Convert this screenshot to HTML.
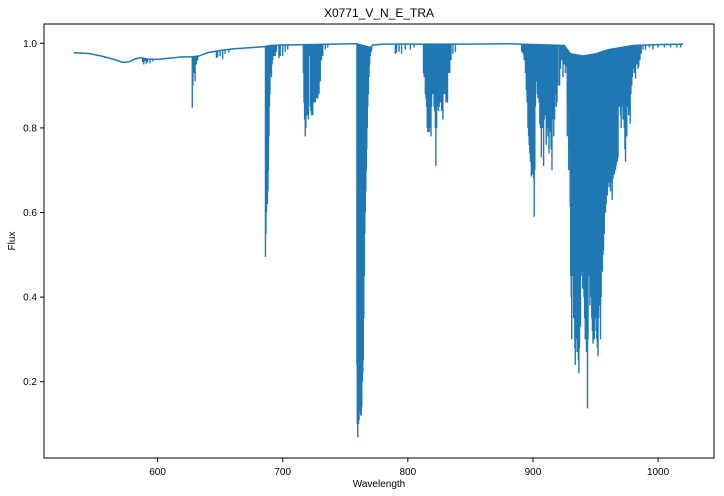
<!DOCTYPE html>
<html><head><meta charset="utf-8"><style>
html,body{margin:0;padding:0;background:#fff;}
svg{display:block;font-family:"Liberation Sans",sans-serif;}
</style></head><body>
<svg id="chart" width="724" height="496" viewBox="0 0 724 496">
<rect x="0" y="0" width="724" height="496" fill="#fff"/>
<text x="379" y="17" text-anchor="middle" font-size="12" fill="#000">X0771_V_N_E_TRA</text>
<g id="plot"></g>
<g id="axes"></g>
<text x="379" y="487" text-anchor="middle" font-size="10" fill="#000">Wavelength</text>
<text x="15" y="241" text-anchor="middle" font-size="10" fill="#000" transform="rotate(-90 15 241)">Flux</text>
</svg>
<script>
const xTicks = [600, 700, 800, 900, 1000];
const yTicks = [0.2, 0.4, 0.6, 0.8, 1.0];
const contWl = [533,545,555,565,572,577,582,586,592,600,610,620,627,633,640,650,660,670,685,690,700,720,740,758,759,770,772,780,800,850,880,890,925,930,940,950,960,970,980,1000,1020];
const contFlux = [0.978,0.976,0.970,0.962,0.955,0.956,0.963,0.966,0.963,0.962,0.965,0.968,0.968,0.970,0.978,0.983,0.987,0.989,0.992,0.995,0.996,0.997,0.998,0.999,0.999,0.99,0.996,0.998,0.998,0.998,0.999,0.998,0.995,0.975,0.97,0.975,0.985,0.99,0.995,0.997,0.998];
const lineWl = [588,589,590,591,592,594,596,
627.7,628.2,629,630,631,632,
647,648,650,652,654,657,
686.2,686.6,687,687.4,687.8,688.2,688.6,689,689.4,689.8,690.2,690.6,691,691.5,692,693,694,695,697,698,700,702,704,
716.5,717,717.5,718,718.5,719,719.5,720,720.5,721,722,722.5,723,723.5,724,724.5,725,725.5,726,726.5,727,727.5,728,728.5,729,729.5,730,731,732,734,736,
759.3,759.6,760,760.3,760.6,761,761.4,762,762.4,762.8,763.2,763.6,764,764.4,764.8,765.2,765.6,766,766.4,766.8,767.2,767.6,768,768.5,769,769.5,770,771,
790,791,793,795,798,802,805,
812.5,813,813.5,814,814.5,815,815.5,816,816.5,817,817.5,818,818.5,819,819.5,820,820.5,821,821.5,822,822.4,823,823.5,824,824.5,825,825.5,826,826.5,827,827.5,828,828.5,829,829.5,830,830.5,831,831.7,832.5,833.5,834.5,836,838,
891,892,893,894,894.7,895.3,896,896.5,897,897.5,898,898.7,899.3,900,900.5,901,901.5,902,902.7,903.5,904,905,905.5,906,906.7,907.3,908,908.5,909,909.5,910,910.6,911.3,912,912.8,913.5,914,914.5,915.2,916,916.6,917.3,918,918.6,919.2,920,921.3,922,923,924,925,926,926.6,927.4,928,928.6,929.2,929.8,
930.2,930.6,931,931.5,932,932.5,933,933.5,933.8,934.3,934.8,935.3,935.8,936.3,936.7,937.2,937.7,938,938.5,939,939.3,939.8,940.3,940.8,941.3,941.8,942.3,942.8,943.2,943.6,944,944.5,945,945.5,946,946.5,947,947.5,948,948.5,949,949.5,950,950.5,951,951.5,952,952.5,953,953.5,954,954.5,955,955.5,956,956.4,957,957.5,958,
958.5,959,959.5,960,960.5,961,961.5,962,962.5,963.3,964,964.5,965,965.5,966,966.5,967,967.5,968,968.5,969,969.5,970,970.5,971,971.5,972,972.5,973,973.5,974,974.5,975,975.5,976,976.5,977,977.7,978.3,979,979.5,980,981,982,983,984,984.6,985.5,986.5,988,990,993,996,1000,1005,1010,1015,1018];
const lineFlux = [0.955,0.95,0.958,0.952,0.955,0.953,0.957,
0.848,0.90,0.93,0.91,0.95,0.96,
0.965,0.968,0.97,0.963,0.975,0.978,
0.495,0.55,0.60,0.62,0.62,0.65,0.70,0.78,0.85,0.88,0.93,0.94,0.92,0.95,0.96,0.97,0.97,0.98,0.965,0.97,0.97,0.98,0.985,
0.93,0.86,0.82,0.78,0.80,0.88,0.83,0.90,0.82,0.97,0.85,0.84,0.83,0.90,0.83,0.86,0.87,0.86,0.86,0.88,0.87,0.93,0.87,0.90,0.88,0.93,0.91,0.96,0.97,0.985,0.99,
0.24,0.10,0.068,0.12,0.10,0.11,0.13,0.13,0.12,0.12,0.14,0.20,0.22,0.25,0.35,0.45,0.55,0.60,0.65,0.70,0.75,0.80,0.85,0.88,0.92,0.95,0.97,0.98,
0.975,0.978,0.98,0.975,0.985,0.985,0.99,
0.93,0.92,0.95,0.88,0.87,0.85,0.80,0.79,0.79,0.79,0.80,0.85,0.78,0.85,0.90,0.88,0.93,0.85,0.84,0.80,0.71,0.80,0.85,0.87,0.84,0.85,0.86,0.86,0.88,0.84,0.85,0.82,0.88,0.90,0.88,0.90,0.86,0.87,0.86,0.93,0.93,0.96,0.975,0.98,
0.98,0.975,0.96,0.93,0.89,0.86,0.80,0.78,0.76,0.74,0.72,0.685,0.69,0.70,0.68,0.59,0.70,0.85,0.91,0.88,0.87,0.86,0.81,0.80,0.73,0.80,0.80,0.71,0.82,0.83,0.84,0.76,0.80,0.78,0.74,0.80,0.79,0.75,0.70,0.82,0.78,0.82,0.88,0.85,0.86,0.90,0.90,0.94,0.96,0.92,0.95,0.93,0.945,0.78,0.85,0.70,0.75,0.614,
0.45,0.40,0.30,0.45,0.50,0.35,0.40,0.28,0.24,0.30,0.35,0.27,0.30,0.25,0.22,0.28,0.35,0.33,0.45,0.55,0.46,0.42,0.47,0.40,0.35,0.30,0.30,0.27,0.28,0.137,0.30,0.50,0.45,0.38,0.40,0.43,0.35,0.32,0.29,0.35,0.30,0.32,0.40,0.35,0.30,0.28,0.26,0.35,0.40,0.38,0.30,0.40,0.48,0.46,0.50,0.51,0.55,0.60,0.60,
0.62,0.65,0.64,0.66,0.68,0.67,0.66,0.65,0.67,0.63,0.68,0.70,0.69,0.71,0.70,0.71,0.73,0.72,0.73,0.85,0.88,0.85,0.83,0.80,0.85,0.86,0.82,0.86,0.80,0.75,0.72,0.80,0.78,0.86,0.85,0.83,0.84,0.81,0.88,0.90,0.92,0.94,0.93,0.917,0.95,0.94,0.945,0.96,0.975,0.985,0.985,0.99,0.985,0.99,0.99,0.99,0.99,0.99];

const L=44, R=714, T=24, B=458;
const xMin=509.2, xMax=1044.7, yMin=0.0196, yMax=1.0457;
const sx = v => L + (v - xMin) / (xMax - xMin) * (R - L);
const sy = v => B - (v - yMin) / (yMax - yMin) * (B - T);
function cont(w){
  for(let i=0;i<contWl.length-1;i++){
    if(w>=contWl[i] && w<=contWl[i+1]){
      const t=(w-contWl[i])/(contWl[i+1]-contWl[i]);
      return contFlux[i]+t*(contFlux[i+1]-contFlux[i]);
    }
  }
  return contFlux[contFlux.length-1];
}
const NS="http://www.w3.org/2000/svg";
const plot=document.getElementById('plot');
const axes=document.getElementById('axes');
const C="#1f77b4";

let d="";
contWl.forEach((w,i)=>{ d+=(i?"L":"M")+sx(w).toFixed(2)+","+sy(contFlux[i]).toFixed(2); });
const cp=document.createElementNS(NS,'path');
cp.setAttribute('d',d);cp.setAttribute('fill','none');cp.setAttribute('stroke',C);cp.setAttribute('stroke-width','1.5');


plot.appendChild(cp);

let ld="";
lineWl.forEach((w,i)=>{
  const x=sx(w).toFixed(2);
  ld+="M"+x+","+sy(cont(w)).toFixed(2)+"L"+x+","+sy(lineFlux[i]).toFixed(2);
});
const lp=document.createElementNS(NS,'path');
lp.setAttribute('d',ld);lp.setAttribute('fill','none');lp.setAttribute('stroke',C);lp.setAttribute('stroke-width','1.4');


plot.appendChild(lp);

const frame=document.createElementNS(NS,'rect');
frame.setAttribute('x',L);frame.setAttribute('y',T);frame.setAttribute('width',R-L);frame.setAttribute('height',B-T);
frame.setAttribute('fill','none');frame.setAttribute('stroke','#000');frame.setAttribute('stroke-width','1');


axes.appendChild(frame);

xTicks.forEach(v=>{
  const x=sx(v);
  const t=document.createElementNS(NS,'line');
  t.setAttribute('x1',x);t.setAttribute('x2',x);t.setAttribute('y1',B);t.setAttribute('y2',B+4);t.setAttribute('stroke','#000');
  
  
  axes.appendChild(t);
  const tx=document.createElementNS(NS,'text');
  tx.setAttribute('x',x);tx.setAttribute('y',B+17);tx.setAttribute('text-anchor','middle');tx.setAttribute('font-size','10');
  tx.textContent=v;
  
  
  axes.appendChild(tx);
});
yTicks.forEach(v=>{
  const y=sy(v);
  const t=document.createElementNS(NS,'line');
  t.setAttribute('x1',L-4);t.setAttribute('x2',L);t.setAttribute('y1',y);t.setAttribute('y2',y);t.setAttribute('stroke','#000');
  
  
  axes.appendChild(t);
  const tx=document.createElementNS(NS,'text');
  tx.setAttribute('x',L-7);tx.setAttribute('y',y+3.5);tx.setAttribute('text-anchor','end');tx.setAttribute('font-size','10');
  tx.textContent=v.toFixed(1);
  
  
  axes.appendChild(tx);
});
</script>
</body></html>
